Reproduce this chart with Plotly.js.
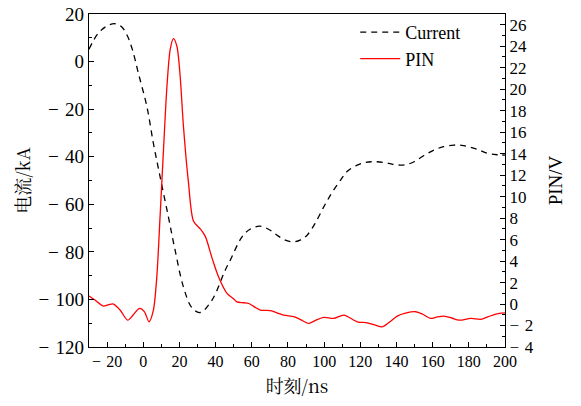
<!DOCTYPE html>
<html>
<head>
<meta charset="utf-8">
<script src="https://cdn.plot.ly/plotly-3.0.1.min.js"></script>
<style>html,body{margin:0;padding:0;background:#fff}#chart{width:581px;height:406px}</style>
</head>
<body>
<div id="chart"></div>
<script>
// Current (kA), left axis
const currentTime = [-30, -25, -20, -15.6, -12, -9, -6, -2.7, 2, 5.6, 9.3, 13.9, 17.6, 22.2, 26.9, 31.5, 38, 45.3, 48.1, 54.6, 59, 64.5, 70, 74.5, 79, 83.2, 87, 90.6, 95, 99.8, 104, 109.1, 113, 118.3, 123, 127.5, 133, 138, 142.3, 146, 149.7, 155, 160.8, 166, 171.8, 176, 180, 185, 190.3, 196, 200];
const currentValues = [5.2, 11.8, 15.0, 15.9, 14.6, 11.2, 5, -4.9, -18.9, -34.4, -48.4, -65.3, -79.3, -94.7, -103.5, -105.5, -100.3, -87.7, -83.5, -73.7, -70.5, -69.2, -70.8, -73.3, -75.2, -75.8, -75, -73, -68, -61.1, -55.5, -49.8, -46, -43.5, -42.4, -42.1, -42.4, -43.2, -43.5, -43.2, -42.1, -39.6, -37.2, -35.8, -35.1, -35.2, -35.8, -37, -38.6, -39.2, -39.3];
// PIN (V), right axis
const pinTime = [-30, -26.7, -22.1, -19, -16.5, -12.8, -8.6, -5.5, -2.1, 0.6, 3.2, 5.6, 7.5, 9.3, 11.2, 13.0, 14.9, 16.7, 18.6, 20.4, 22.2, 25, 27.8, 31.5, 34.3, 38, 41.6, 46.3, 49.9, 51.8, 55.5, 58.3, 64.7, 70.3, 77.6, 83.2, 87, 91.5, 95.5, 99.8, 105.3, 110.9, 118.3, 123.8, 128, 132.2, 136, 140.4, 145, 150.6, 154.5, 158.9, 162.5, 166.3, 170.5, 174.6, 181.1, 186.6, 190.5, 194.9, 200];
const pinValues = [0.75, 0.37, -0.19, -0.05, 0, -0.56, -1.5, -1.0, -0.4, -0.7, -1.65, -0.56, 2.55, 8.16, 14.4, 20.0, 23.7, 24.7, 24.0, 21.2, 16.6, 11.3, 7.7, 7.0, 6.3, 4.3, 2.55, 1.0, 0.5, 0.2, 0.12, 0.05, -0.56, -0.62, -1.03, -1.18, -1.45, -1.8, -1.5, -1.25, -1.34, -1.03, -1.65, -1.75, -1.95, -2.12, -1.7, -1.12, -0.85, -0.72, -0.95, -1.34, -1.2, -1.12, -1.3, -1.5, -1.34, -1.43, -1.2, -0.93, -0.82];
const xTicks = [-20, 0, 20, 40, 60, 80, 100, 120, 140, 160, 180, 200];
const leftTicks = [-120, -100, -80, -60, -40, -20, 0, 20];
const rightTicks = [-4, -2, 0, 2, 4, 6, 8, 10, 12, 14, 16, 18, 20, 22, 24, 26];

const FONT = 'Liberation Serif';
const CJK = 'Noto Serif CJK SC';
const fmt = v => v < 0 ? '\u2212\u2004' + Math.abs(v) : String(v);
const traces = [
  {x: currentTime, y: currentValues, name: 'Current', type: 'scatter', mode: 'lines',
   line: {color: '#000', width: 1.3, dash: '6px,5px', shape: 'spline', smoothing: 1}, yaxis: 'y'},
  {x: pinTime, y: pinValues, name: 'PIN', type: 'scatter', mode: 'lines',
   line: {color: '#ff0000', width: 1.3, shape: 'spline', smoothing: 0.8}, yaxis: 'y2'}
];
const layout = {
  width: 581, height: 406,
  margin: {l: 89, r: 76, t: 14, b: 59},
  paper_bgcolor: '#fff', plot_bgcolor: '#fff',
  font: {family: FONT, color: '#000', size: 15},
  showlegend: true,
  legend: {x: 0.64, y: 1.0, xanchor: 'left', yanchor: 'top', bgcolor: 'rgba(0,0,0,0)',
           font: {size: 18, family: FONT}, tracegroupgap: 0, itemwidth: 40},
  xaxis: {range: [-30, 200], tickvals: xTicks, ticktext: xTicks.map(fmt),
          ticks: 'inside', ticklen: 5, tickwidth: 1, tickcolor: '#000',
          minor: {dtick: 10, tick0: 0, ticks: 'inside', ticklen: 3, tickcolor: '#000'},
          showline: true, linecolor: '#000', linewidth: 1.2, mirror: true,
          showgrid: false, zeroline: false, tickfont: {size: 16, family: FONT},
          title: {text: '时刻/ns', font: {size: 18, family: CJK}, standoff: 11}},
  yaxis: {range: [-120, 20], tickvals: leftTicks, ticktext: leftTicks.map(fmt),
          ticks: 'inside', ticklen: 5, tickwidth: 1, tickcolor: '#000',
          minor: {dtick: 10, tick0: 0, ticks: 'inside', ticklen: 3, tickcolor: '#000'},
          showline: true, linecolor: '#000', linewidth: 1.2,
          showgrid: false, zeroline: false, tickfont: {size: 19, family: FONT},
          title: {text: '电流/kA', font: {size: 18, family: CJK}, standoff: 3}},
  yaxis2: {range: [-4, 27], overlaying: 'y', side: 'right', tickvals: rightTicks,
          ticktext: rightTicks.map(fmt),
          ticks: 'inside', ticklen: 5, tickwidth: 1, tickcolor: '#000',
          minor: {dtick: 1, tick0: 0, ticks: 'inside', ticklen: 3, tickcolor: '#000'},
          showline: true, linecolor: '#000', linewidth: 1.2,
          showgrid: false, zeroline: false, tickfont: {size: 17, family: FONT},
          title: {text: 'PIN/V', font: {size: 19, family: FONT}, standoff: 15}}
};
Plotly.newPlot('chart', traces, layout, {displayModeBar: false, staticPlot: true});
</script>
</body>
</html>
